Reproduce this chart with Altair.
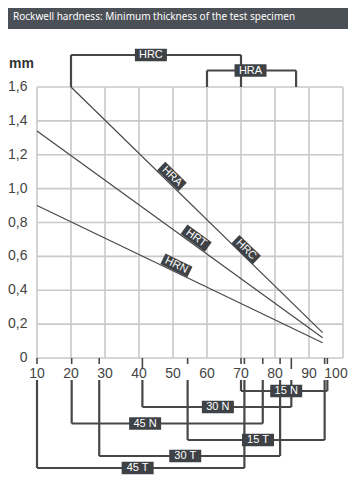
import altair as alt
import pandas as pd

# ---------------- data ----------------
title_text = "Rockwell hardness: Minimum thickness of the test specimen"
unit_text = "mm"

curve_names = ["HRA/HRC", "HRT", "HRN"]
curve_x_start = [20, 10, 10]
curve_y_start = [1.6, 1.34, 0.9]
curve_x_end = [94, 94, 94]
curve_y_end = [0.15, 0.12, 0.09]

line_labels = ["HRA", "HRC", "HRT", "HRN"]
line_label_x = [49.7, 71.5, 56.8, 51.0]
line_label_y = [1.072, 0.64, 0.708, 0.547]

top_names = ["HRC", "HRA"]
top_start = [20, 60]
top_end = [70, 86.2]
top_label_x = [43.5, 72.8]

bottom_names = ["15 N", "30 N", "45 N", "15 T", "30 T", "45 T"]
bottom_start = [70, 41, 20.2, 54.3, 28.3, 10]
bottom_end = [95.4, 84.8, 76.4, 94.6, 81.5, 71]
bottom_label_x = [83.3, 63.2, 41.8, 75, 53.6, 39.6]

x_ticks = [10, 20, 30, 40, 50, 60, 70, 80, 90, 100]
x_tick_labels = ["10", "20", "30", "40", "50", "60", "70", "80", "90", "100"]
y_ticks = [0, 0.2, 0.4, 0.6, 0.8, 1.0, 1.2, 1.4, 1.6]
y_tick_labels = ["0", "0,2", "0,4", "0,6", "0,8", "1,0", "1,2", "1,4", "1,6"]

# ---------------- layout / style (pixels, relative to plot area) ----------------
W, H = 306, 271
line_label_angle = [44, 44, 36, 26]
top_rows = [-32, -16.5]
bottom_rows = [304, 320, 336.5, 353, 369, 381]
bracket_top = 293
long_ticks = [41, 84.8]

GRID = "#c9c9c9"
INK = "#474747"
BOX = "#3e4246"
BANNER = "#4b4f56"
LABEL = "#444444"
FONT = "Liberation Sans"
BOXPATH = "M-1,-0.39H1V0.39H-1Z"

xs = alt.Scale(domain=[10, 100], nice=False, zero=False)
ys = alt.Scale(domain=[0, 1.6], nice=False)

def X(f):
    return alt.X(f, scale=xs, axis=None)

def Y(f):
    return alt.Y(f, scale=ys, axis=None)

def P(f):
    return alt.Y(f, scale=None, axis=None)

# grid + tick labels
xg = pd.DataFrame({"v": x_ticks, "t": x_tick_labels})
yg = pd.DataFrame({"v": y_ticks, "t": y_tick_labels})
vgrid = alt.Chart(xg).mark_rule(color=GRID, strokeWidth=1.6).encode(
    x=X("v:Q"), y=alt.value(0), y2=alt.value(H))
hgrid = alt.Chart(yg).mark_rule(color=GRID, strokeWidth=1.6).encode(
    y=Y("v:Q"), x=alt.value(0), x2=alt.value(W))
xlab = alt.Chart(xg).transform_filter("datum.v < 100").mark_text(
    color=LABEL, fontSize=14, font=FONT, align="center", baseline="middle").encode(
    x=X("v:Q"), y=alt.value(H + 16), text="t:N")
xlab_last = alt.Chart(xg).transform_filter("datum.v == 100").mark_text(
    color=LABEL, fontSize=14, font=FONT, align="center", baseline="middle", dx=-7).encode(
    x=X("v:Q"), y=alt.value(H + 16), text="t:N")
ylab = alt.Chart(yg).mark_text(color=LABEL, fontSize=14, font=FONT, align="right",
                               baseline="middle").encode(
    y=Y("v:Q"), x=alt.value(-9.5), text="t:N")

# curves
rows = []
for n, x0, y0, x1, y1 in zip(curve_names, curve_x_start, curve_y_start, curve_x_end, curve_y_end):
    rows.append({"series": n, "x": x0, "y": y0})
    rows.append({"series": n, "x": x1, "y": y1})
curve_df = pd.DataFrame(rows)
lines = alt.Chart(curve_df).mark_line(color=INK, strokeWidth=1.2).encode(
    x=X("x:Q"), y=Y("y:Q"), detail="series:N")

# labels on the curves
ll_df = pd.DataFrame({"label": line_labels, "x": line_label_x, "y": line_label_y,
                      "angle": line_label_angle})
ll_box = alt.Chart(ll_df).mark_point(shape=BOXPATH, filled=True, size=900, color=BOX,
                                     opacity=1, strokeWidth=0).encode(
    x=X("x:Q"), y=Y("y:Q"), angle=alt.Angle("angle:Q", scale=None))
ll_text = alt.Chart(ll_df).mark_text(color="white", fontSize=11, font=FONT,
                                     align="center", baseline="middle").encode(
    x=X("x:Q"), y=Y("y:Q"), angle=alt.Angle("angle:Q", scale=None), text="label:N")

# brackets
top_df = pd.DataFrame({"name": top_names, "start": top_start, "end": top_end,
                       "lx": top_label_x, "row": top_rows})
bot_df = pd.DataFrame({"name": bottom_names, "start": bottom_start, "end": bottom_end,
                       "lx": bottom_label_x, "row": bottom_rows})
lab_df = pd.concat([top_df, bot_df], ignore_index=True)

top_ends = pd.DataFrame({"v": top_start + top_end, "row": top_rows + top_rows})
bot_ends = pd.DataFrame({"v": bottom_start + bottom_end, "row": bottom_rows + bottom_rows})
bot_ends["tickend"] = [H + (11 if v in long_ticks else 6) for v in bot_ends["v"]]

hrules = alt.Chart(lab_df).mark_rule(color=INK, strokeWidth=2.2).encode(
    x=X("start:Q"), x2="end:Q", y=P("row:Q"))
top_v = alt.Chart(top_ends).mark_rule(color=INK, strokeWidth=2.2).encode(
    x=X("v:Q"), y=P("row:Q"), y2=alt.value(0))
bot_v = alt.Chart(bot_ends).mark_rule(color=INK, strokeWidth=2.2).encode(
    x=X("v:Q"), y=P("row:Q"), y2=alt.value(bracket_top))
ticks = alt.Chart(bot_ends).mark_rule(color=INK, strokeWidth=1.6).encode(
    x=X("v:Q"), y=P("tickend:Q"), y2=alt.value(H))

box = alt.Chart(lab_df).mark_point(shape=BOXPATH, filled=True, size=1024, color=BOX,
                                   opacity=1, strokeWidth=0).encode(
    x=X("lx:Q"), y=P("row:Q"))
box_text = alt.Chart(lab_df).mark_text(color="white", fontSize=11, font=FONT,
                                       align="center", baseline="middle").encode(
    x=X("lx:Q"), y=P("row:Q"), text="name:N")

# banner + unit
one = pd.DataFrame({"t": [title_text], "u": [unit_text]})
banner = alt.Chart(one).mark_rect(color=BANNER).encode(
    x=alt.value(-29), x2=alt.value(311), y=alt.value(-79), y2=alt.value(-58))
banner_text = alt.Chart(one).mark_text(color="white", fontSize=10, font="Noto Sans",
                                       align="left", baseline="middle").encode(
    x=alt.value(-24), y=alt.value(-70), text="t:N")
unit = alt.Chart(one).mark_text(color="#333333", fontSize=14, font=FONT, fontWeight="bold",
                                align="left", baseline="middle").encode(
    x=alt.value(-28), y=alt.value(-23), text="u:N")

chart = alt.layer(
    vgrid, hgrid, xlab, xlab_last, ylab, lines, banner, banner_text, unit, hrules, top_v,
    bot_v, ticks, box, box_text, ll_box, ll_text
).properties(width=W, height=H, padding=0, background="white").configure_view(stroke=None)

chart.save("out.html", embed_options={"renderer": "svg", "actions": False})
